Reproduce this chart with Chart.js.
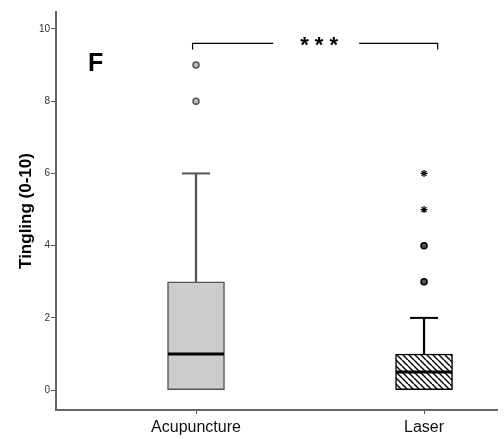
<!DOCTYPE html>
<html>
<head>
<meta charset="utf-8">
<script src="https://cdn.jsdelivr.net/npm/chart.js@4/dist/chart.umd.min.js"></script>
<style>
    body { margin: 0; background: #fff; }
    #wrap { width: 504px; height: 439px; position: relative; }
</style>
</head>
<body>
<div id="wrap"><canvas id="boxChart"></canvas></div>
<script>
// box plot values, one entry per group
const categories = ['Acupuncture', 'Laser']
const q1 = [0, 0]
const medians = [1, 0.5]
const q3 = [3, 1]
const whiskerHigh = [6, 2]
const circleOutliers = [[8, 9], [3, 4]]
const starOutliers = [[], [5, 6]]
const yTicks = [0, 2, 4, 6, 8, 10]

const boxFill = ['#cccccc', null]
const boxLine = ['#555555', '#000000']

function hatch()
{
    const c = document.createElement('canvas')
    c.width = 6
    c.height = 6
    const g = c.getContext('2d')
    g.fillStyle = '#fff'
    g.fillRect(0, 0, 6, 6)
    g.strokeStyle = '#000'
    g.lineWidth = 1.4
    for (let k = -1; k <= 1; k++) {
        g.beginPath()
        g.moveTo(k * 6, 0)
        g.lineTo(k * 6 + 6, 6)
        g.stroke()
    }
    return g.createPattern(c, 'repeat')
}
boxFill[1] = hatch()

const pos = categories.map((c, i) => i + 1)

const circles = []
const circleColors = []
const circleBorders = []
circleOutliers.forEach((list, i) => list.forEach(v => {
    circles.push({ x: pos[i], y: v })
    circleColors.push(i === 0 ? '#bdbdbd' : '#555555')
    circleBorders.push(i === 0 ? '#555555' : '#000000')
}))
const stars = []
starOutliers.forEach((list, i) => list.forEach(v => stars.push({ x: pos[i], y: v })))

const extras = {
    id: 'extras',
    afterDraw(chart)
    {
        const { ctx, scales: { x, y }, chartArea } = chart
        ctx.save()
        // significance bracket
        const by = y.getPixelForValue(9.6)
        const x1 = x.getPixelForValue(0.985)
        const x2 = x.getPixelForValue(2.06)
        const mid = (x1 + x2) / 2
        ctx.strokeStyle = '#000'
        ctx.lineWidth = 1.2
        ctx.beginPath()
        ctx.moveTo(x1, by + 6)
        ctx.lineTo(x1, by)
        ctx.lineTo(mid - 42, by)
        ctx.moveTo(mid + 44, by)
        ctx.lineTo(x2, by)
        ctx.lineTo(x2, by + 6)
        ctx.stroke()
        ctx.fillStyle = '#000'
        ctx.font = 'bold 22px "Liberation Sans", Arial, sans-serif'
        ctx.textAlign = 'center'
        ctx.textBaseline = 'middle'
        ctx.fillText('* * *', mid + 4, by + 3)
        // panel letter
        ctx.font = 'bold 25px "Liberation Sans", Arial, sans-serif'
        ctx.textAlign = 'left'
        ctx.textBaseline = 'alphabetic'
        ctx.fillText('F', chartArea.left + 32, chartArea.top + 59)
        ctx.restore()
    }
}

new Chart(document.getElementById('boxChart'), {
    type: 'bar',
    data: {
        datasets: [
            {
                label: 'box',
                data: pos.map((p, i) => ({ x: p, y: [q1[i], q3[i]] })),
                backgroundColor: boxFill,
                borderColor: boxLine,
                borderWidth: 1.5,
                borderSkipped: false,
                barThickness: 57,
                grouped: false,
                order: 3
            },
            {
                label: 'whisker',
                data: pos.map((p, i) => ({ x: p, y: [q3[i], whiskerHigh[i]] })),
                backgroundColor: boxLine,
                borderWidth: 0,
                barThickness: 1.6,
                grouped: false,
                order: 4
            },
            {
                type: 'scatter',
                label: 'cap',
                data: pos.map((p, i) => ({ x: p, y: whiskerHigh[i] })),
                pointStyle: 'line',
                radius: 14,
                borderWidth: 2,
                borderColor: boxLine,
                order: 2
            },
            {
                type: 'scatter',
                label: 'median',
                data: pos.map((p, i) => ({ x: p, y: medians[i] })),
                pointStyle: 'line',
                radius: 28,
                borderWidth: 3,
                borderColor: '#000',
                order: 1
            },
            {
                type: 'scatter',
                label: 'outliers',
                data: circles,
                pointStyle: 'circle',
                radius: 3,
                borderWidth: 1.5,
                backgroundColor: circleColors,
                borderColor: circleBorders,
                order: 0
            },
            {
                type: 'scatter',
                label: 'extremes',
                data: stars,
                pointStyle: 'star',
                radius: 3.5,
                borderWidth: 1.2,
                borderColor: '#000',
                order: 0
            }
        ]
    },
    options: {
        responsive: true,
        maintainAspectRatio: false,
        animation: false,
        layout: { autoPadding: false, padding: { top: 12, right: 7, left: 0, bottom: 0 } },
        plugins: {
            legend: { display: false },
            tooltip: { enabled: false }
        },
        scales: {
            x: {
                type: 'linear',
                offset: false,
                min: 0.386,
                max: 2.32,
                afterBuildTicks: s => { s.ticks = pos.map(v => ({ value: v })) },
                afterFit: s => { s.height = 29 },
                ticks: {
                    callback: v => categories[v - 1],
                    color: '#111',
                    font: { family: '"Liberation Sans", Arial, sans-serif', size: 16 },
                    padding: 4
                },
                grid: { drawOnChartArea: false, offset: false, tickLength: 4, color: '#555' },
                border: { color: '#666', width: 2 }
            },
            y: {
                min: -0.55,
                max: 10.47,
                afterBuildTicks: s => { s.ticks = yTicks.map(v => ({ value: v })) },
                afterFit: s => { s.width = 56 },
                ticks: {
                    color: '#333',
                    font: { family: '"Liberation Sans", Arial, sans-serif', size: 10 },
                    padding: 1
                },
                grid: { drawOnChartArea: false, tickLength: 5, color: '#555' },
                border: { color: '#666', width: 2 },
                title: {
                    display: true,
                    text: 'Tingling (0-10)',
                    color: '#000',
                    font: { family: '"Liberation Sans", Arial, sans-serif', size: 17, weight: 'bold' },
                    padding: { top: 16, bottom: 0 }
                }
            }
        }
    },
    plugins: [extras]
})
</script>
</body>
</html>
